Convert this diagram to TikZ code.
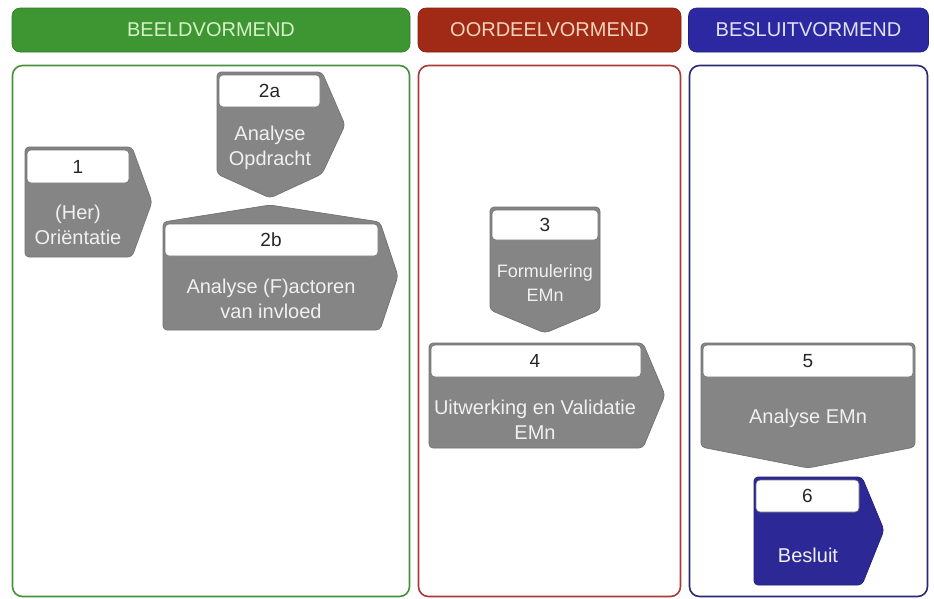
\documentclass[tikz,border=0pt]{standalone}
\usepackage{fontspec}
\setmainfont{Liberation Sans}
\definecolor{hgreen}{RGB}{62,150,50}
\definecolor{hred}{RGB}{160,42,22}
\definecolor{hblue}{RGB}{44,40,162}
\definecolor{pgreen}{RGB}{70,145,60}
\definecolor{pred}{RGB}{165,60,55}
\definecolor{pblue}{RGB}{42,42,115}
\definecolor{stepgray}{RGB}{133,133,133}
\definecolor{stepedge}{RGB}{115,115,115}
\definecolor{bluestep}{RGB}{44,40,150}
\begin{document}
\begin{tikzpicture}[x=1pt,y=-1pt,
  header/.style={rounded corners=8pt, minimum height=44pt, inner sep=0pt,
    font=\fontsize{20}{24}\selectfont, draw=#1!80!black, line width=0.6pt, fill=#1},
  panel/.style={rounded corners=10pt, line width=1.6pt, inner sep=0pt, fill=white},
  stepbody/.style={fill=stepgray, draw=stepedge, line width=0.7pt, rounded corners=4pt},
  steplabel/.style={fill=white, draw=stepedge, line width=0.6pt, rounded corners=4pt},
  numtext/.style={text=black!85, font=\fontsize{19}{22}\selectfont, inner sep=0pt},
  bodytext/.style={text=white!94!black, font=\fontsize{20}{25}\selectfont, align=center, inner sep=0pt}
]
\useasboundingbox (0,0) rectangle (934,598);
\fill[white] (0,0) rectangle (934,598);

% column headers
\node[header=hgreen, text={rgb,255:red,215;green,240;blue,200}, minimum width=398pt] (hbeeld) at (211,30) {BEELDVORMEND};
\node[header=hred, text={rgb,255:red,245;green,212;blue,185}, minimum width=263pt] (hoordeel) at (549.5,30) {OORDEELVORMEND};
\node[header=hblue, text={rgb,255:red,225;green,225;blue,245}, minimum width=240pt] (hbesluit) at (808.5,30) {BESLUITVORMEND};

% column panels
\node[panel, draw=pgreen, minimum width=397pt, minimum height=531pt] (pbeeld) at (211,331) {};
\node[panel, draw=pred, minimum width=262pt, minimum height=531pt] (poordeel) at (549.5,331) {};
\node[panel, draw=pblue, minimum width=238pt, minimum height=531pt] (pbesluit) at (808.5,331) {};

% step 1
\draw[stepbody] (25,147) -- (132,147) -- (152,202) -- (132,257) -- (25,257) -- cycle;
\draw[steplabel] (27,150) rectangle (129,183);
\node[numtext] (n1) at (78,166.5) {1};
\node[bodytext] (t1) at (78,225) {(Her)\\Oriëntatie};

% step 2a
\draw[stepbody] (217,72) -- (322,72) -- (345,125) -- (322,174) -- (270,198) -- (217,174) -- cycle;
\draw[steplabel] (219,75) rectangle (320,107);
\node[numtext] (n2a) at (269.5,91) {2a};
\node[bodytext] (t2a) at (270,148) {Analyse\\Opdracht};

% step 2b
\draw[stepbody] (163,222) -- (270,205) -- (380,222) -- (398,276) -- (380,330) -- (163,330) -- cycle;
\draw[steplabel] (165,224) rectangle (378,256);
\node[numtext] (n2b) at (271,240) {2b};
\node[bodytext] (t2b) at (271,299) {Analyse (F)actoren\\van invloed};

% step 3
\draw[stepbody] (490,207) -- (600,207) -- (600,310) -- (545,333) -- (490,310) -- cycle;
\draw[steplabel] (492,210) rectangle (598,240);
\node[numtext] (n3) at (545,225) {3};
\node[bodytext, font=\fontsize{18}{24}\selectfont] (t3) at (545,283) {Formulering\\EMn};

% step 4
\draw[stepbody] (429,343) -- (643,343) -- (665,395) -- (643,448) -- (429,448) -- cycle;
\draw[steplabel] (431,345) rectangle (641,377);
\node[numtext] (n4) at (535,361) {4};
\node[bodytext] (t4) at (535,420) {Uitwerking en Validatie\\EMn};

% step 5
\draw[stepbody] (701,343) -- (915,343) -- (915,447) -- (808,468) -- (701,447) -- cycle;
\draw[steplabel] (703,345) rectangle (913,377);
\node[numtext] (n5) at (808,361) {5};
\node[bodytext] (t5) at (808,418) {Analyse EMn};

% step 6
\draw[stepbody, fill=bluestep, draw=bluestep!80!black] (754,477) -- (862,477) -- (884,530) -- (862,585) -- (754,585) -- cycle;
\draw[steplabel] (756,480) rectangle (859,512);
\node[numtext] (n6) at (807.5,496) {6};
\node[bodytext] (t6) at (808,555) {Besluit};
\end{tikzpicture}
\end{document}
